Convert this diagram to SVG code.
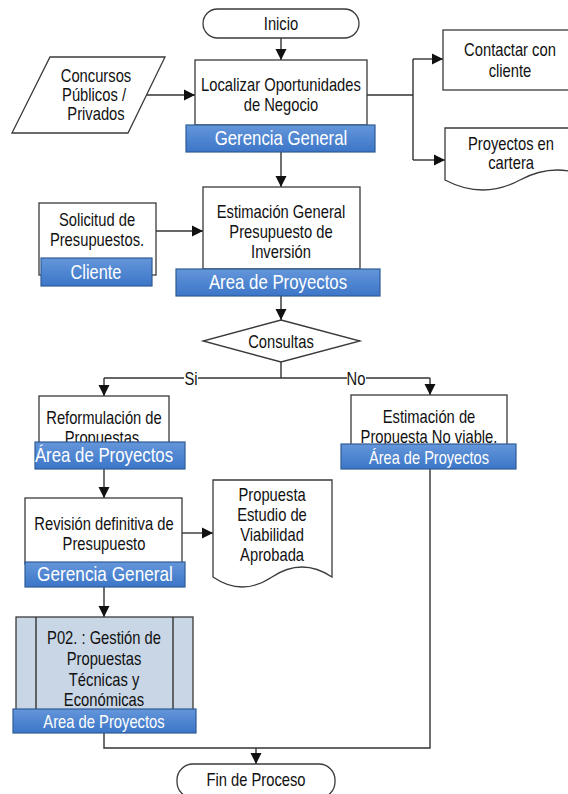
<svg xmlns="http://www.w3.org/2000/svg" width="568" height="794" viewBox="0 0 568 794">
  <style>
    .box { fill: #ffffff; stroke: #3a3a3a; stroke-width: 1.3; }
    .sub { fill: #c9d6e6; stroke: #3a3a3a; stroke-width: 1.3; }
    .band { fill: url(#bandFill); stroke: #2f5b96; stroke-width: 1.2; }
    /* Arial-metric face, narrowed horizontally to a condensed look */
    .t, .bt, .lbl {
      font-family: "Liberation Sans", Arial, sans-serif;
      text-anchor: middle; dominant-baseline: central;
      transform-box: fill-box; transform-origin: center; transform: scaleX(0.82);
    }
    .t { font-size: 18px; fill: #111111; }
    .lbl { font-size: 18px; fill: #111111; }
    .bt { fill: #ffffff; }
    .ln { fill: none; stroke: #333333; stroke-width: 1.4; }
    .arr { marker-end: url(#head); }
  </style>
  <defs>
    <linearGradient id="bandFill" x1="0" y1="0" x2="0" y2="1">
      <stop offset="0" stop-color="#6496da"/>
      <stop offset="1" stop-color="#3c76c8"/>
    </linearGradient>
    <marker id="head" viewBox="0 0 10 10" refX="10" refY="5" markerWidth="11" markerHeight="12" markerUnits="userSpaceOnUse" orient="auto">
      <path d="M0,0 L10,5 L0,10 Z" fill="#111111"/>
    </marker>
  </defs>

  <!-- connectors -->
  <g id="connectors">
    <path class="ln arr" d="M281,38 V60"/>
    <path class="ln arr" d="M147,95 H195"/>
    <path class="ln" d="M367,95 H413 M413,59 V160"/>
    <path class="ln arr" d="M413,59 H443"/>
    <path class="ln arr" d="M413,160 H445"/>
    <path class="ln arr" d="M281,152 V187"/>
    <path class="ln arr" d="M156,231 H203"/>
    <path class="ln arr" d="M281,296 V320"/>
    <path class="ln" d="M281,362 V378 M104,378 H430"/>
    <path class="ln arr" d="M104,378 V396"/>
    <path class="ln arr" d="M430,378 V395"/>
    <path class="ln arr" d="M104,469 V498"/>
    <path class="ln arr" d="M182,533 H213"/>
    <path class="ln arr" d="M104,587 V617"/>
    <path class="ln" d="M104,733 V748 H430 V469"/>
    <path class="ln arr" d="M256,748 V764"/>
    <rect x="184" y="368" width="14" height="20" fill="#ffffff"/>
    <text class="lbl" x="191" y="378">Si</text>
    <rect x="347" y="368" width="19" height="20" fill="#ffffff"/>
    <text class="lbl" x="356" y="378">No</text>
  </g>

  <g id="inicio">
    <rect class="box" x="203" y="9" width="156" height="29" rx="14.5"/>
    <text class="t" x="281" y="23">Inicio</text>
  </g>

  <g id="concursos">
    <polygon class="box" points="50,57 165,57 128,133 12,133"/>
    <text class="t" x="96" y="75">Concursos</text>
    <text class="t" x="94" y="94">Públicos /</text>
    <text class="t" x="96" y="113">Privados</text>
  </g>

  <g id="localizar">
    <rect class="box" x="195" y="60" width="172" height="65"/>
    <text class="t" x="281" y="84">Localizar Oportunidades</text>
    <text class="t" x="281" y="104">de Negocio</text>
    <rect class="band" x="186" y="125" width="189" height="27"/>
    <text class="bt" x="281" y="138" font-size="20.5">Gerencia General</text>
  </g>

  <g id="contactar">
    <rect class="box" x="443" y="30" width="140" height="60"/>
    <text class="t" x="510" y="49">Contactar con</text>
    <text class="t" x="510" y="70">cliente</text>
  </g>

  <g id="cartera">
    <path class="box" d="M445,128 H595 V180 Q557,160 520,180 T445,180 Z"/>
    <text class="t" x="511" y="143">Proyectos en</text>
    <text class="t" x="511" y="162">cartera</text>
  </g>

  <g id="estimacion">
    <rect class="box" x="203" y="187" width="157" height="82"/>
    <text class="t" x="281" y="211">Estimación General</text>
    <text class="t" x="281" y="231">Presupuesto de</text>
    <text class="t" x="281" y="251">Inversión</text>
    <rect class="band" x="176" y="269" width="204" height="27"/>
    <text class="bt" x="278" y="282" font-size="20.5">Area de Proyectos</text>
  </g>

  <g id="solicitud">
    <rect class="box" x="39" y="203" width="117" height="72"/>
    <text class="t" x="97" y="219">Solicitud de</text>
    <text class="t" x="97" y="239">Presupuestos.</text>
    <rect class="band" x="41" y="258" width="111" height="28"/>
    <text class="bt" x="96" y="272" font-size="20">Cliente</text>
  </g>

  <g id="consultas">
    <polygon class="box" points="281,320 360,341 281,362 203,341"/>
    <text class="t" x="281" y="341">Consultas</text>
  </g>

  <g id="reformulacion">
    <rect class="box" x="39" y="396" width="130" height="50"/>
    <text class="t" x="104" y="417">Reformulación de</text>
    <text class="t" x="104" y="437">Propuestas.</text>
    <rect class="band" x="35" y="442" width="150" height="27"/>
    <text class="bt" x="104" y="455" font-size="20.5">Área de Proyectos</text>
  </g>

  <g id="no-viable">
    <rect class="box" x="351" y="395" width="156" height="52"/>
    <text class="t" x="429" y="416">Estimación de</text>
    <text class="t" x="429" y="436">Propuesta No viable.</text>
    <rect class="band" x="341" y="444" width="175" height="25"/>
    <text class="bt" x="429" y="457" font-size="17.8">Área de Proyectos</text>
  </g>

  <g id="revision">
    <rect class="box" x="25" y="498" width="157" height="66"/>
    <text class="t" x="104" y="523">Revisión definitiva de</text>
    <text class="t" x="104" y="543">Presupuesto</text>
    <rect class="band" x="25" y="562" width="160" height="25"/>
    <text class="bt" x="105" y="574" font-size="21">Gerencia General</text>
  </g>

  <g id="propuesta-aprobada">
    <path class="box" d="M213,480 H332 V577 Q302,557 272,577 T213,577 Z"/>
    <text class="t" x="272" y="494">Propuesta</text>
    <text class="t" x="272" y="514">Estudio de</text>
    <text class="t" x="272" y="534">Viabilidad</text>
    <text class="t" x="272" y="554">Aprobada</text>
  </g>

  <g id="p02">
    <rect class="sub" x="16" y="617" width="177" height="93"/>
    <path class="ln" d="M36,617 V710 M173,617 V710"/>
    <text class="t" x="104" y="637">P02. : Gestión de</text>
    <text class="t" x="104" y="658">Propuestas</text>
    <text class="t" x="104" y="679">Técnicas y</text>
    <text class="t" x="104" y="699">Económicas</text>
    <rect class="band" x="13" y="709" width="183" height="24"/>
    <text class="bt" x="104" y="721" font-size="18">Area de Proyectos</text>
  </g>

  <g id="fin">
    <rect class="box" x="177" y="764" width="158" height="34" rx="16"/>
    <text class="t" x="256" y="779">Fin de Proceso</text>
  </g>
</svg>
